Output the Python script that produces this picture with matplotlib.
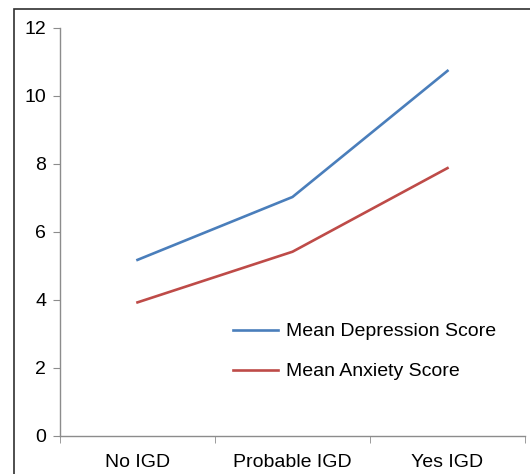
import matplotlib.pyplot as plt
from matplotlib.patches import Rectangle

plt.rcParams['font.family'] = ['Liberation Sans', 'DejaVu Sans']

groups = ['No IGD', 'Probable IGD', 'Yes IGD']
depression = [5.18, 7.03, 10.74]
anxiety = [3.93, 5.42, 7.88]

fig = plt.figure(figsize=(5.30, 4.74), dpi=100)
ax = fig.add_axes([60 / 530, 38 / 474, 465 / 530, 408 / 474])

# outer frame, cut off at right and bottom
fig.patches.append(Rectangle((14 / 530, -0.1), 1.2, 1.1 - 9 / 474,
                             transform=fig.transFigure, fill=False,
                             edgecolor='#303030', linewidth=1.2))

x = range(len(groups))
ax.plot(x, depression, color='#4A7EBB', linewidth=1.9, label='Mean Depression Score')
ax.plot(x, anxiety, color='#BE4B48', linewidth=1.9, label='Mean Anxiety Score')

ax.set_xlim(-0.5, 2.5)
ax.set_ylim(0, 12)
ax.set_yticks(range(0, 13, 2))
ax.set_xticks(list(x))
ax.set_xticklabels(groups)
ax.set_xticks([-0.5, 0.5, 1.5, 2.5], minor=True)

for side in ('top', 'right'):
    ax.spines[side].set_visible(False)
for side in ('left', 'bottom'):
    ax.spines[side].set_color('#8C8C8C')
    ax.spines[side].set_linewidth(1.0)

ax.tick_params(axis='y', direction='out', length=5, color='#8C8C8C',
               labelsize=14, pad=5)
ax.tick_params(axis='x', which='major', length=0, labelsize=14, pad=13)
ax.tick_params(axis='x', which='minor', direction='out', length=5, color='#8C8C8C')

ax.legend(loc='upper left', bbox_to_anchor=(165 / 465, 1 - 287 / 408),
          frameon=False, fontsize=14, handlelength=2.3, handletextpad=0.45,
          labelspacing=1.15, borderaxespad=0)

fig.savefig('out.png', dpi=100)
